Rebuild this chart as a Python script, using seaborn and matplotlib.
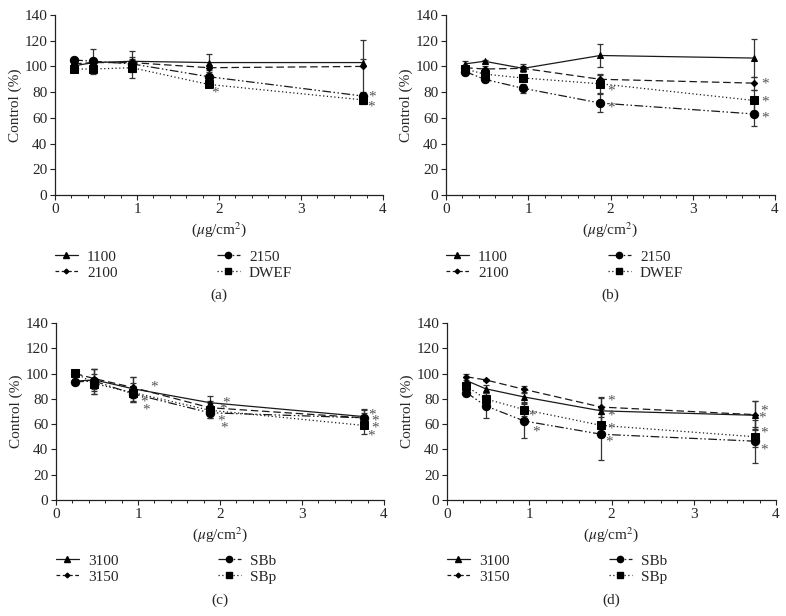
import numpy as np
import pandas as pd
import matplotlib
matplotlib.use("Agg")
import matplotlib.pyplot as plt
from matplotlib.lines import Line2D
from matplotlib.ticker import MultipleLocator
import seaborn as sns

sns.set_theme(style="ticks")
plt.rcParams['font.family'] = ['Liberation Serif', 'DejaVu Serif']
plt.rcParams['mathtext.fontset'] = 'stix'

# concentrations (ug/cm2)
dose = [0.234, 0.469, 0.938, 1.875, 3.75]

# Panel (a)
a_names = ["1100", "2100", "2150", "DWEF"]
a_1100 = [100.5, 103, 104, 103, 103]
a_2100 = [102, 103, 103, 99, 100]
a_2150 = [105, 104, 102, 92, 77]
a_DWEF = [98, 98, 99, 86, 74]
a_err_1100 = [2, 3, 8, 7, 3]
a_err_2100 = [2, 3, 3, 2, 20.5]
a_err_2150 = [1, 9.5, 3, 2, 3]
a_err_DWEF = [1, 4, 8, 2, 3]
a_star_x = [1.95, 3.87, 3.85]
a_star_y = [79.5, 76.5, 68.7]

# Panel (b)
b_names = ["1100", "2100", "2150", "DWEF"]
b_1100 = [102, 104, 98.5, 108.5, 106.5]
b_2100 = [99, 98, 98.5, 90, 87]
b_2150 = [96, 90, 83, 71.5, 63]
b_DWEF = [98, 94, 91, 86.5, 73.5]
b_err_1100 = [2, 1, 3, 9, 15]
b_err_2100 = [2, 2, 2, 4, 5]
b_err_2150 = [3, 2, 3.5, 7, 9.5]
b_err_DWEF = [2, 2, 2, 7, 8]
b_star_x = [2.01, 2.01, 3.88, 3.88, 3.88]
b_star_y = [81, 67.4, 86, 72.6, 60]

# Panel (c)
c_names = ["3100", "3150", "SBb", "SBp"]
c_3100 = [94, 95, 88, 77, 66]
c_3150 = [100, 96, 89, 73, 65]
c_SBb = [93.5, 94, 84, 69, 65]
c_SBp = [100.5, 92, 85, 71, 59]
c_err_3100 = [2, 9, 9.5, 5.5, 6]
c_err_3150 = [2, 8, 8, 5, 6]
c_err_SBb = [2, 10, 6.5, 4.5, 4]
c_err_SBp = [1.5, 8, 7.5, 6, 7]
c_star_x = [1.19, 1.07, 1.10, 2.07, 2.04, 2.01, 2.05, 3.86, 3.89, 3.89, 3.84]
c_star_y = [89, 77.6, 71, 76.8, 71.6, 62.6, 57, 67, 62.6, 56.6, 50.8]

# Panel (d)
d_names = ["3100", "3150", "SBb", "SBp"]
d_3100 = [94.5, 88, 81.5, 70.5, 67]
d_3150 = [97.5, 95, 87.5, 73.5, 67.5]
d_SBb = [85, 74.5, 62.5, 52, 46.5]
d_SBp = [90, 80, 71.5, 59, 50]
d_err_3100 = [3, 3, 4, 10.5, 11.5]
d_err_3150 = [2.5, 1, 2.5, 8, 11]
d_err_SBb = [1.5, 10, 13.5, 20, 17]
d_err_SBp = [2, 3, 5, 9, 8]
d_star_x = [1.99, 1.99, 1.99, 1.97, 1.04, 1.08, 3.85, 3.83, 3.86, 3.86]
d_star_y = [78.4, 66.6, 56, 46, 66.6, 54, 70.5, 64.5, 52.6, 39.5]

markers_list = ['^', 'D', 'o', 's']
marker_sizes = [5, 3.2, 6, 5.5]
dash_list = [(None, None), (6, 3), (7, 2, 1.2, 2, 1.2, 2), (1, 2)]

panels = [
    ("(a)", a_names, [a_1100, a_2100, a_2150, a_DWEF],
     [a_err_1100, a_err_2100, a_err_2150, a_err_DWEF], a_star_x, a_star_y),
    ("(b)", b_names, [b_1100, b_2100, b_2150, b_DWEF],
     [b_err_1100, b_err_2100, b_err_2150, b_err_DWEF], b_star_x, b_star_y),
    ("(c)", c_names, [c_3100, c_3150, c_SBb, c_SBp],
     [c_err_3100, c_err_3150, c_err_SBb, c_err_SBp], c_star_x, c_star_y),
    ("(d)", d_names, [d_3100, d_3150, d_SBb, d_SBp],
     [d_err_3100, d_err_3150, d_err_SBb, d_err_SBp], d_star_x, d_star_y),
]

fig = plt.figure(figsize=(7.86, 6.16), dpi=100)
W, H = 786, 616
# axes boxes in pixels: left, top, right, bottom
boxes = [(55, 15, 383, 195), (446, 15, 775, 195),
         (56, 323, 384, 500), (447, 323, 776, 500)]
FS = 11

for (lab, names, vals, errs, sx, sy), (l, t, r, b) in zip(panels, boxes):
    ax = fig.add_axes([l / W, 1 - b / H, (r - l) / W, (b - t) / H])
    rows = []
    for n, v in zip(names, vals):
        for x, y in zip(dose, v):
            rows.append({"dose": x, "val": y, "series": n})
    df = pd.DataFrame(rows)
    dashes = {n: ("" if d[0] is None else d) for n, d in zip(names, dash_list)}
    for i, n in enumerate(names):
        ax.errorbar(dose, vals[i], yerr=errs[i], fmt='none', ecolor='#333333',
                    elinewidth=0.9, capsize=2.2, capthick=0.9, zorder=2)
    sns.lineplot(data=df, x="dose", y="val", hue="series", style="series",
                 palette={n: "#1a1a1a" for n in names},
                 dashes=dashes, markers={n: m for n, m in zip(names, markers_list)},
                 markersize=6, linewidth=0.9, legend=False, ax=ax, sort=False,
                 markeredgecolor='black', zorder=3)
    for line, ms in zip(ax.get_lines()[-4:], marker_sizes):
        line.set_markersize(ms)
        line.set_markerfacecolor('black')
        line.set_markeredgecolor('black')
    for x, y in zip(sx, sy):
        ax.text(x, y, "*", fontsize=FS, color='#555555', ha='center',
                va='center')
    ax.set_xlim(0, 4)
    ax.set_ylim(0, 140)
    ax.xaxis.set_major_locator(MultipleLocator(1))
    ax.xaxis.set_minor_locator(MultipleLocator(0.2))
    ax.yaxis.set_major_locator(MultipleLocator(20))
    ax.tick_params(axis='both', which='major', labelsize=FS, length=3.5,
                   width=0.8, color='#222222', pad=2)
    ax.tick_params(axis='x', which='minor', length=2.5, width=0.7, color='#222222')
    for s in ['top', 'right']:
        ax.spines[s].set_visible(False)
    for s in ['left', 'bottom']:
        ax.spines[s].set_linewidth(0.9)
        ax.spines[s].set_color('#222222')
    ax.set_xlabel(r"($\mu$g/cm$^2$)", fontsize=FS, labelpad=3)
    ax.set_ylabel("Control (%)", fontsize=FS, labelpad=2)

    handles = []
    for n, m, ms, d in zip(names, markers_list, marker_sizes, dash_list):
        h = Line2D([], [], color='#1a1a1a', marker=m, markersize=ms * 0.75,
                   markerfacecolor='black', markeredgecolor='black',
                   linewidth=0.9)
        if d[0] is not None:
            h.set_dashes((3, 2) if n == names[1] else d)
        handles.append(h)
    ax.legend(handles, names, loc='upper left', bbox_to_anchor=(0.0, -0.305),
              ncol=2, frameon=False, fontsize=FS, handlelength=1.5,
              columnspacing=6.5, labelspacing=0.15, handletextpad=0.6,
              borderaxespad=0, borderpad=0)
    fig.text((l + r) / 2 / W, 1 - (b + 100) / H, lab, ha='center', va='center',
             fontsize=FS)

fig.savefig("out.png", dpi=100)
